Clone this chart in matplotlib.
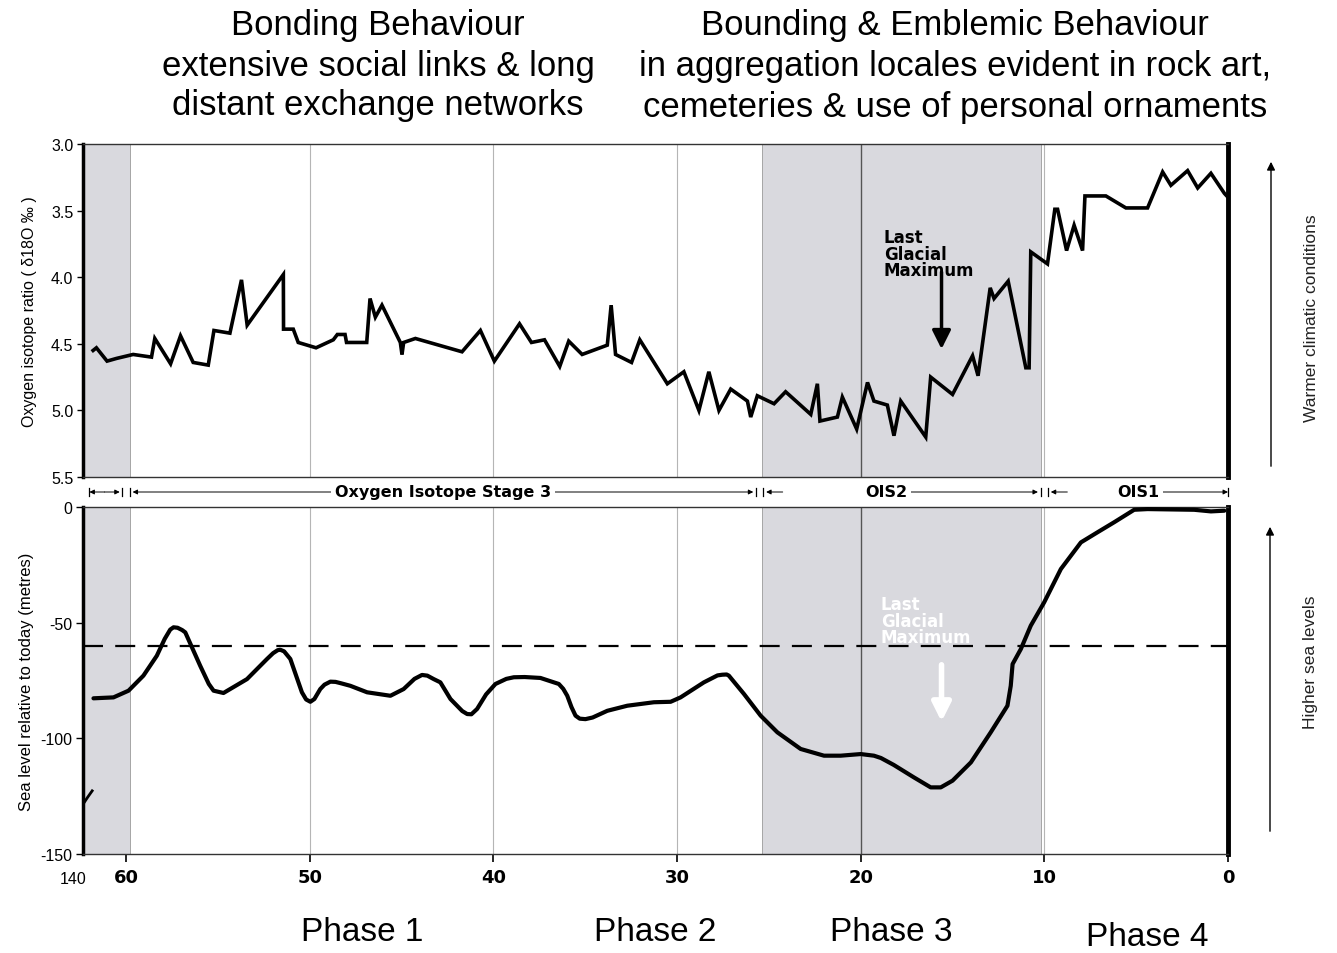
import matplotlib
matplotlib.use('Agg')
import matplotlib.pyplot as plt
from matplotlib.transforms import blended_transform_factory

# ---------------- data ----------------
iso_age = [61.80, 61.62, 61.04, 60.53, 59.62, 58.62, 58.44, 57.58, 57.04, 56.35,
           55.53, 55.22, 54.35, 53.72, 53.41, 51.44, 51.43, 50.90, 50.63, 49.66,
           48.72, 48.50, 48.08, 48.00, 46.90, 46.72, 46.43, 46.07, 45.07, 44.98,
           44.89, 44.25, 41.71, 40.71, 39.95, 38.58, 37.93, 37.22, 36.39, 35.90,
           35.17, 33.80, 33.59, 33.35, 32.48, 32.03, 30.53, 29.63, 28.81, 28.27,
           27.72, 27.08, 26.17, 25.99, 25.63, 24.72, 24.09, 22.72, 22.36, 22.22,
           21.27, 21.00, 20.22, 19.63, 19.28, 18.55, 18.19, 17.82, 16.46, 16.19,
           15.00, 13.91, 13.61, 12.95, 12.74, 11.97, 11.01, 10.83, 10.74, 9.83,
           9.43, 9.28, 8.79, 8.38, 7.92, 7.79, 6.65, 5.56, 4.38, 3.56,
           3.11, 2.20, 1.65, 0.93, 0.20, 0.00]
iso_val = [4.55, 4.53, 4.63, 4.61, 4.58, 4.60, 4.46, 4.65, 4.44, 4.64,
           4.66, 4.40, 4.42, 4.02, 4.36, 3.98, 4.39, 4.39, 4.49, 4.53,
           4.47, 4.43, 4.43, 4.49, 4.49, 4.16, 4.30, 4.21, 4.49, 4.58,
           4.49, 4.46, 4.56, 4.40, 4.63, 4.35, 4.49, 4.47, 4.67, 4.48,
           4.58, 4.51, 4.21, 4.58, 4.64, 4.47, 4.80, 4.71, 5.00, 4.71,
           5.00, 4.84, 4.93, 5.05, 4.89, 4.95, 4.86, 5.03, 4.80, 5.08,
           5.05, 4.90, 5.14, 4.79, 4.93, 4.96, 5.19, 4.93, 5.20, 4.75,
           4.88, 4.59, 4.74, 4.08, 4.16, 4.03, 4.68, 4.68, 3.81, 3.90,
           3.49, 3.49, 3.80, 3.61, 3.80, 3.39, 3.39, 3.48, 3.48, 3.21,
           3.31, 3.20, 3.33, 3.22, 3.37, 3.40]

sea_age = [61.78, 60.69, 59.87, 59.06, 58.33, 57.90, 57.60, 57.42, 57.20, 56.95,
           56.78, 55.97, 55.50, 55.24, 54.70, 53.42, 52.33, 52.00, 51.75, 51.61,
           51.40, 51.06, 50.43, 50.20, 49.97, 49.75, 49.43, 49.20, 48.88, 48.60,
           48.30, 47.79, 46.88, 45.61, 44.89, 44.30, 43.89, 43.60, 43.25, 42.89,
           42.34, 41.70, 41.43, 41.20, 40.89, 40.40, 39.89, 39.30, 38.89, 38.30,
           37.44, 36.44, 36.20, 35.98, 35.75, 35.53, 35.30, 34.99, 34.60, 33.80,
           32.71, 31.26, 30.35, 29.81, 28.54, 27.80, 27.54, 27.30, 27.18, 26.36,
           25.45, 24.54, 23.27, 22.00, 21.09, 20.00, 19.28, 18.90, 18.20, 17.10,
           16.19, 15.64, 15.00, 14.00, 12.92, 12.01, 11.83, 11.73, 11.28, 10.74,
           10.01, 9.10, 8.01, 7.10, 6.20, 5.11, 4.38, 1.84, 0.93, 0.20]
sea_lvl = [-82.7, -82.3, -79.4, -72.9, -64.3, -57.0, -53.0, -52.0, -52.2, -53.2,
           -54.2, -68.6, -76.5, -79.4, -80.4, -74.4, -65.7, -63.2, -61.9, -61.7,
           -62.4, -65.7, -80.1, -83.2, -84.2, -83.0, -78.7, -76.8, -75.5, -75.6,
           -76.2, -77.3, -80.1, -81.6, -78.7, -74.3, -72.6, -72.9, -74.4, -75.8,
           -83.0, -88.2, -89.5, -89.6, -87.3, -81.0, -76.5, -74.3, -73.6, -73.5,
           -73.9, -76.5, -78.6, -81.6, -86.5, -90.2, -91.5, -91.7, -91.0, -88.1,
           -85.9, -84.4, -84.2, -82.3, -75.8, -72.8, -72.5, -72.4, -72.9, -80.8,
           -90.2, -97.4, -104.6, -107.5, -107.5, -106.8, -107.5, -108.5, -111.5, -116.9,
           -121.2, -121.2, -118.3, -110.4, -97.4, -85.9, -77.3, -67.9, -61.4, -51.3,
           -41.2, -26.8, -15.3, -10.9, -6.6, -1.2, -0.9, -1.2, -1.9, -1.6]

sea140_age = [62.35, 62.10, 61.85]
sea140_lvl = [-128.5, -125.5, -122.7]

ref_level = -60

shade_spans = [(62.35, 59.8), (25.4, 10.2)]
grid_light = [50, 40, 30, 10]
grid_dark = [20]

xtick_pos = [60, 50, 40, 30, 20, 10, 0]
xtick_lab = ['60', '50', '40', '30', '20', '10', '0']
iso_ticks = [3.0, 3.5, 4.0, 4.5, 5.0, 5.5]
iso_labels = ['3.0', '3.5', '4.0', '4.5', '5.0', '5.5']
sea_ticks = [0, -50, -100, -150]
sea_labels = ['0', '-50', '-100', '-150']

stage_bounds = [62.0, 60.0, 25.5, 10.0, 0.0]
stage_names = ['', 'Oxygen Isotope Stage 3', 'OIS2', 'OIS1']

header_left = ['Bonding Behaviour', 'extensive social links & long',
               'distant exchange networks']
header_right = ['Bounding & Emblemic Behaviour',
                'in aggregation locales evident in rock art,',
                'cemeteries & use of personal ornaments']
phase_labels = ['Phase 1', 'Phase 2', 'Phase 3', 'Phase 4']

# ---------------- figure ----------------
W, H = 1337, 954
fig = plt.figure(figsize=(W / 100, H / 100), dpi=100)
fig.patch.set_facecolor('white')

def fx(x):
    return x / W

def fy(y):
    return 1 - y / H

L, R = 83, 1228
ax1 = fig.add_axes([fx(L), fy(478), (R - L) / W, (478 - 145) / H])
ax2 = fig.add_axes([fx(L), fy(855), (R - L) / W, (855 - 508) / H])

XMIN, XMAX = 62.35, 0.0
shade_col = '#d9d9de'

for ax in (ax1, ax2):
    ax.set_xlim(XMIN, XMAX)
    for a0, a1 in shade_spans:
        ax.axvspan(a0, a1, facecolor=shade_col, edgecolor='#9a9a9a', lw=0.6, zorder=0)
    for g in grid_light:
        ax.axvline(g, color='#b5b5b5', lw=0.8, zorder=1)
    for g in grid_dark:
        ax.axvline(g, color='#555555', lw=1.0, zorder=1)
    ax.spines['left'].set_linewidth(2.5)
    ax.spines['right'].set_linewidth(3.5)
    ax.spines['top'].set_linewidth(1.0)
    ax.spines['bottom'].set_linewidth(1.0)
    ax.spines['top'].set_color('#333333')
    ax.spines['bottom'].set_color('#333333')

# ---- top panel: oxygen isotope ----
ax1.plot(iso_age, iso_val, color='black', lw=2.6, solid_joinstyle='miter', zorder=3)
ax1.set_ylim(5.5, 3.0)
ax1.set_yticks(iso_ticks)
ax1.set_yticklabels(iso_labels, fontsize=11.5, family='Liberation Sans')
ax1.tick_params(axis='y', direction='out', length=4, width=1, pad=3)
ax1.set_xticks([])
ax1.set_ylabel('Oxygen isotope ratio ( δ18O ‰ )', fontsize=11.5,
               family='Liberation Sans', labelpad=10)

ax1.text(18.75, 3.63, 'Last\nGlacial\nMaximum', fontsize=12, fontweight='bold',
         family='DejaVu Sans', ha='left', va='top', linespacing=0.9, zorder=4)
ax1.annotate('', xy=(15.6, 4.56), xytext=(15.6, 3.94),
             arrowprops=dict(arrowstyle='-|>', color='black', lw=2.5,
                             mutation_scale=28), zorder=4)

# ---- bottom panel: sea level ----
ax2.plot(sea_age, sea_lvl, color='black', lw=3.0, zorder=3,
         solid_joinstyle='round', solid_capstyle='round')
ax2.plot(sea140_age, sea140_lvl, color='black', lw=2.0, zorder=3)
ax2.axhline(ref_level, color='black', lw=1.6, dashes=(9, 5.5), zorder=2)
ax2.set_ylim(-150, 0)
ax2.set_yticks(sea_ticks)
ax2.set_yticklabels(sea_labels, fontsize=11.5, family='Liberation Sans')
ax2.tick_params(axis='y', direction='out', length=5, width=1, pad=3)
ax2.set_xticks(xtick_pos)
ax2.set_xticklabels(xtick_lab, fontsize=13, fontweight='bold', family='DejaVu Sans')
ax2.tick_params(axis='x', direction='out', length=6, width=1.2, pad=4)
ax2.set_ylabel('Sea level relative to today (metres)', fontsize=12,
               family='Liberation Sans', labelpad=4)
ax2.text(XMIN + 0.55, -157.5, '140', fontsize=11.5, family='Liberation Sans',
         ha='center', va='top', clip_on=False)

ax2.text(18.9, -38, 'Last\nGlacial\nMaximum', fontsize=12, fontweight='bold',
         color='white', family='DejaVu Sans', ha='left', va='top',
         linespacing=0.9, zorder=4)
ax2.annotate('', xy=(15.6, -94), xytext=(15.6, -67),
             arrowprops=dict(arrowstyle='-|>', color='white', lw=4,
                             mutation_scale=28), zorder=4)

# ---- stage row between panels ----
tr = blended_transform_factory(ax2.transData, ax2.transAxes)
yrow = 1.0 + 15 / 347
bar_h = 0.012
arrow_kw = dict(arrowstyle='-|>', color='black', lw=0.7, mutation_scale=7,
                shrinkA=0, shrinkB=0)
for i in range(len(stage_bounds) - 1):
    a0, a1 = stage_bounds[i], stage_bounds[i + 1]
    left_end = a0 - 0.35 if i > 0 else a0
    right_end = a1 + 0.35 if a1 > 0 else a1
    mid = (left_end + right_end) / 2
    name = stage_names[i]
    if i in (0, 1):
        ax2.annotate('', xy=(left_end, yrow), xytext=(mid, yrow), xycoords=tr,
                     textcoords=tr, arrowprops=arrow_kw, annotation_clip=False)
    else:
        ax2.annotate('', xy=(left_end, yrow), xytext=(left_end - 0.9, yrow),
                     xycoords=tr, textcoords=tr, arrowprops=arrow_kw,
                     annotation_clip=False)
    ax2.annotate('', xy=(right_end, yrow), xytext=(mid, yrow), xycoords=tr,
                 textcoords=tr, arrowprops=arrow_kw, annotation_clip=False)
    if name:
        tx = mid
        if i == 2:
            tx = 18.6
        if i == 3:
            tx = 4.9
        ax2.text(tx, yrow, name, transform=tr, fontsize=11.5, fontweight='bold',
                 family='DejaVu Sans', ha='center', va='center', zorder=5,
                 bbox=dict(facecolor='white', edgecolor='none', pad=2.5))
for b in stage_bounds[1:-1]:
    for off in (-0.2, 0.2):
        ax2.plot([b + off, b + off], [yrow - bar_h, yrow + bar_h], transform=tr,
                 color='black', lw=0.9, clip_on=False)
for b in (stage_bounds[0], stage_bounds[-1]):
    ax2.plot([b, b], [yrow - bar_h, yrow + bar_h], transform=tr,
             color='black', lw=0.9, clip_on=False)

# ---- right side arrows and labels ----
fig.add_artist(matplotlib.patches.FancyArrowPatch(
    (fx(1271), fy(470)), (fx(1271), fy(160)), transform=fig.transFigure,
    arrowstyle='-|>', mutation_scale=12, lw=1.0, color='black'))
fig.add_artist(matplotlib.patches.FancyArrowPatch(
    (fx(1270), fy(835)), (fx(1270), fy(525)), transform=fig.transFigure,
    arrowstyle='-|>', mutation_scale=12, lw=1.0, color='black'))
fig.text(fx(1311), fy(318), 'Warmer climatic conditions', rotation=90,
         ha='center', va='center', fontsize=12.5, family='Liberation Sans',
         color='#222222')
fig.text(fx(1311), fy(662), 'Higher sea levels', rotation=90,
         ha='center', va='center', fontsize=12.5, family='Liberation Sans',
         color='#222222')

# ---- headers ----
for txt, y in zip(header_left, [25, 67, 106]):
    fig.text(fx(378), fy(y), txt, ha='center', va='center', fontsize=25,
             family='Liberation Sans')
for txt, y in zip(header_right, [25, 67, 108]):
    fig.text(fx(955), fy(y), txt, ha='center', va='center', fontsize=25,
             family='Liberation Sans')

# ---- phase labels ----
for txt, x, y in zip(phase_labels, [362, 655, 891, 1147], [933, 933, 933, 938]):
    fig.text(fx(x), fy(y), txt, ha='center', va='center', fontsize=24,
             family='Liberation Sans')

fig.savefig('out.png', dpi=100, facecolor='white')
